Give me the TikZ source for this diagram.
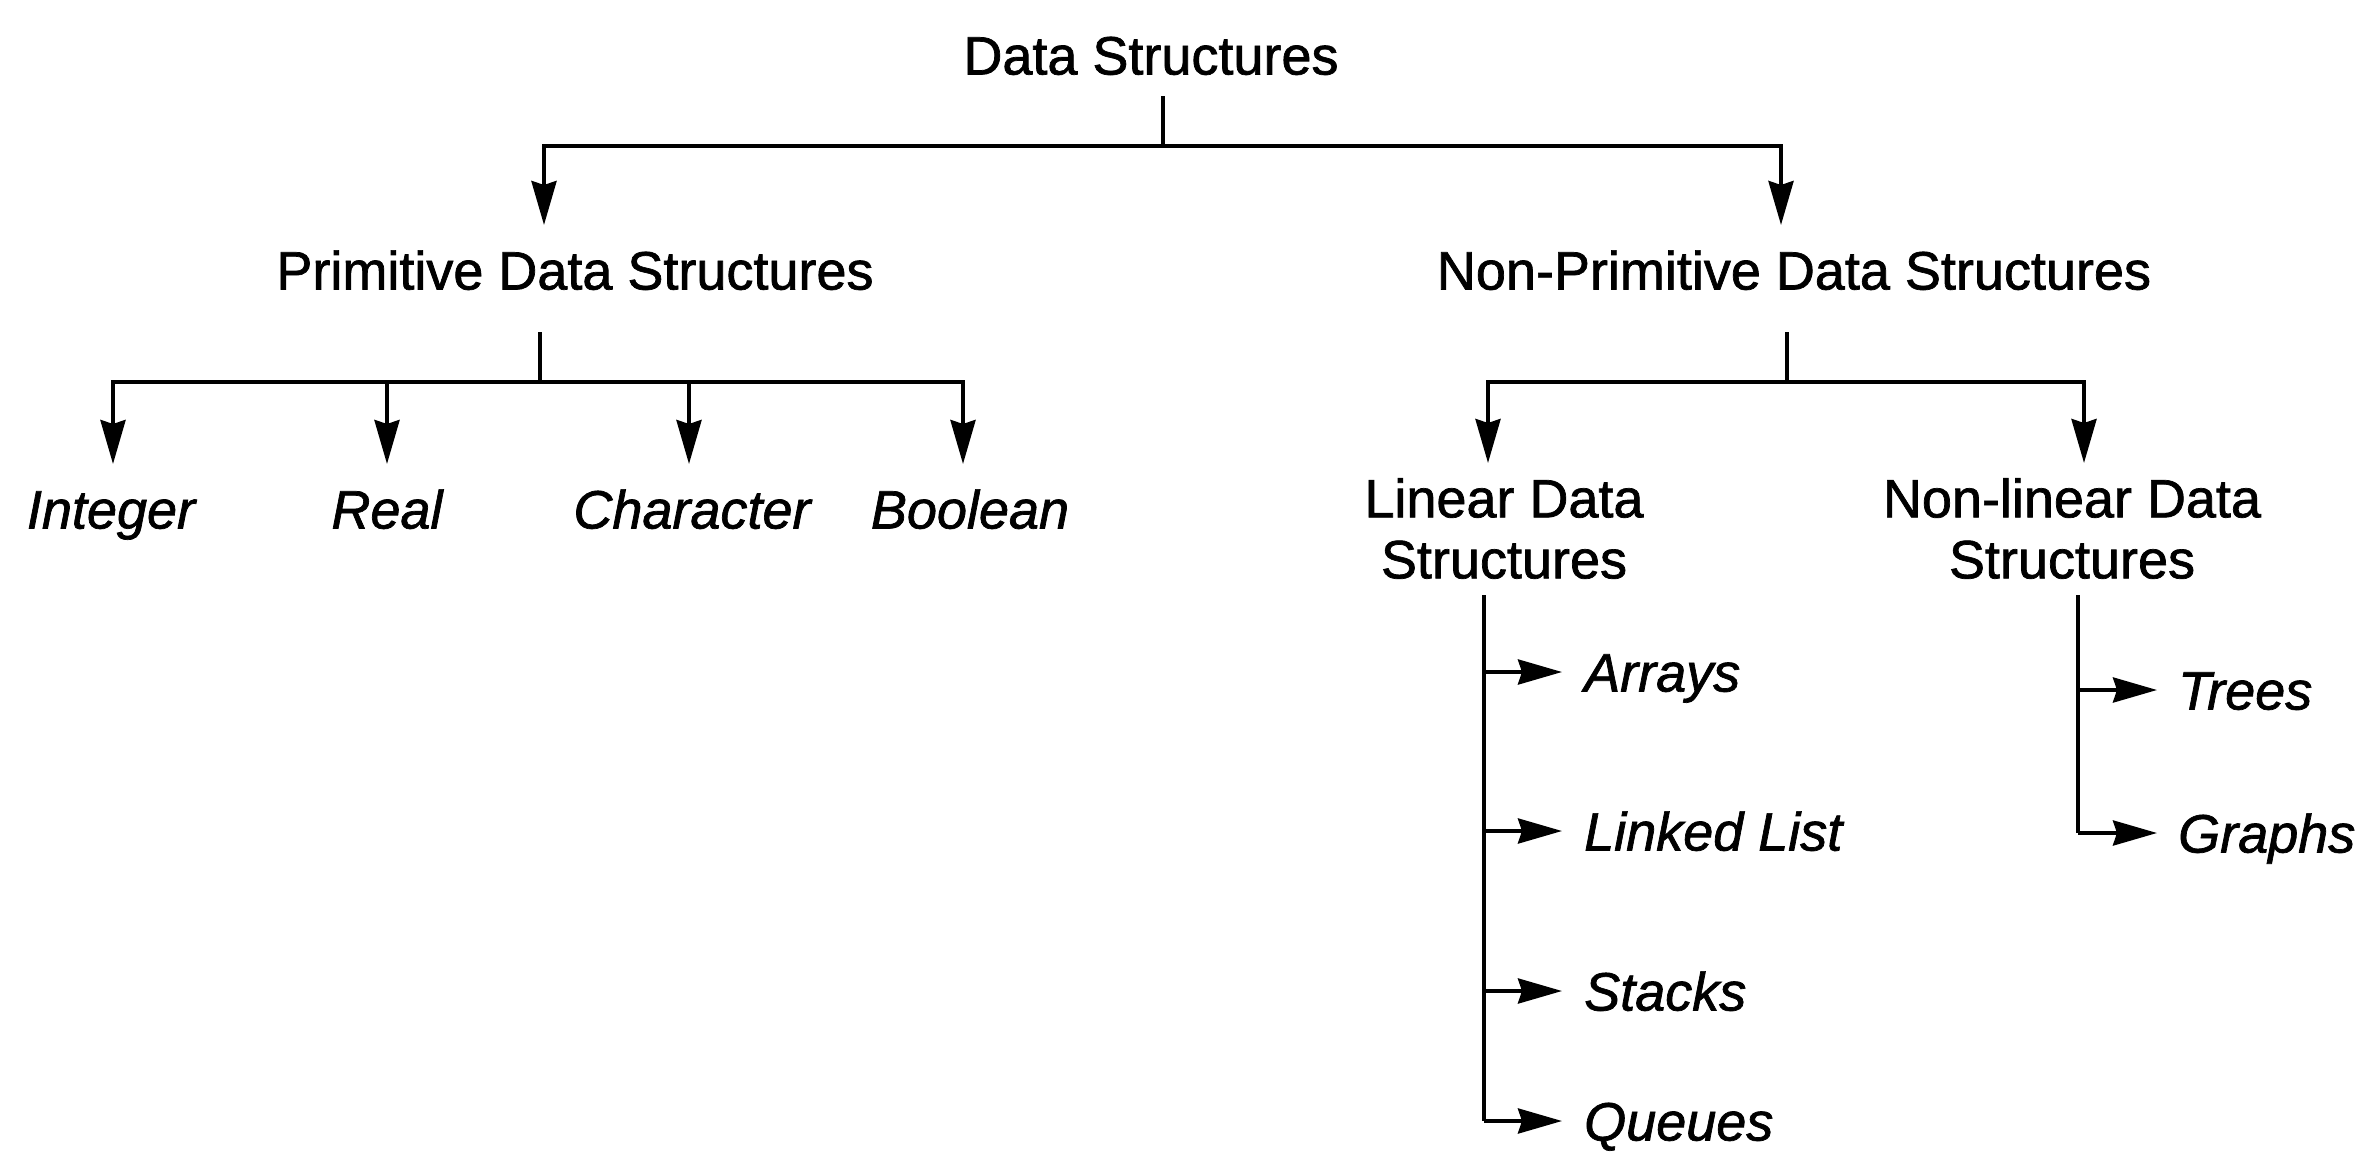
\documentclass[tikz,border=0pt]{standalone}
\usepackage{fontspec}
\setmainfont{Liberation Sans}[FakeBold=1.3]
\usetikzlibrary{arrows.meta}
\begin{document}
\begin{tikzpicture}[x=1pt,y=-1pt,
  lbl/.style={inner sep=0pt, font=\fontsize{54}{61}\selectfont, text height=39pt, text depth=0pt},
  two/.style={inner sep=0pt, font=\fontsize{54}{61}\selectfont, align=center, anchor=north},
  leaf/.style={lbl, font=\fontsize{54}{61}\selectfont\itshape},
  ln/.style={line width=4pt},
  arr/.style={ln, -{Stealth[length=44pt,width=25pt,inset=4pt]}}]
\fill[white] (0,0) rectangle (2361,1156);
\useasboundingbox (0,0) rectangle (2361,1156);

% nodes
\node[lbl] (root) at (1151,55) {Data Structures};
\node[lbl] (prim) at (575,270) {Primitive Data Structures};
\node[lbl] (nprim) at (1794,270) {Non-Primitive Data Structures};
\node[leaf] (int) at (111,509) {Integer};
\node[leaf] (real) at (387,509) {Real};
\node[leaf] (char) at (692,509) {Character};
\node[leaf] (bool) at (970,509) {Boolean};
\node[two] (lin) at (1504,478) {Linear Data\\Structures};
\node[two] (nlin) at (2072,478) {Non-linear Data\\Structures};
\node[leaf, anchor=west] (arrays) at (1584,672) {Arrays};
\node[leaf, anchor=west] (llist) at (1584,831) {Linked List};
\node[leaf, anchor=west] (stacks) at (1584,991) {Stacks};
\node[leaf, anchor=west] (queues) at (1584,1121) {Queues};
\node[leaf, anchor=west] (trees) at (2178,690) {Trees};
\node[leaf, anchor=west] (graphs) at (2178,833) {Graphs};

% level 1
\coordinate (r0) at (1163,96);
\coordinate (j1) at (1163,146);
\coordinate (primT) at (544,225);
\coordinate (nprimT) at (1781,225);
\draw[ln] (r0) -- (j1);
\draw[arr] (j1) -| (primT);
\draw[arr] (j1) -| (nprimT);

% level 2 left
\coordinate (p0) at (540,332);
\coordinate (j2) at (540,382);
\coordinate (intT) at (113,464);
\coordinate (realT) at (387,464);
\coordinate (charT) at (689,464);
\coordinate (boolT) at (963,464);
\draw[ln] (p0) -- (j2);
\draw[arr] (j2) -| (intT);
\draw[arr] (j2) -| (realT);
\draw[arr] (j2) -| (charT);
\draw[arr] (j2) -| (boolT);

% level 2 right
\coordinate (n0) at (1787,332);
\coordinate (j3) at (1787,382);
\coordinate (linT) at (1488,463);
\coordinate (nlinT) at (2084,463);
\draw[ln] (n0) -- (j3);
\draw[arr] (j3) -| (linT);
\draw[arr] (j3) -| (nlinT);

% linear list
\coordinate (l0) at (1484,595);
\coordinate (l1) at (1484,672);
\coordinate (l2) at (1484,831);
\coordinate (l3) at (1484,991);
\coordinate (l4) at (1484,1121);
\draw[ln] (l0) -- (l4);
\draw[arr] (l1) -- ([xshift=-22pt]arrays.west);
\draw[arr] (l2) -- ([xshift=-22pt]llist.west);
\draw[arr] (l3) -- ([xshift=-22pt]stacks.west);
\draw[arr] (l4) -- ([xshift=-22pt]queues.west);

% non-linear list
\coordinate (m0) at (2078,595);
\coordinate (m1) at (2078,690);
\coordinate (m2) at (2078,833);
\draw[ln] (m0) -- (m2);
\draw[arr] (m1) -- ([xshift=-21pt]trees.west);
\draw[arr] (m2) -- ([xshift=-21pt]graphs.west);
\end{tikzpicture}
\end{document}
